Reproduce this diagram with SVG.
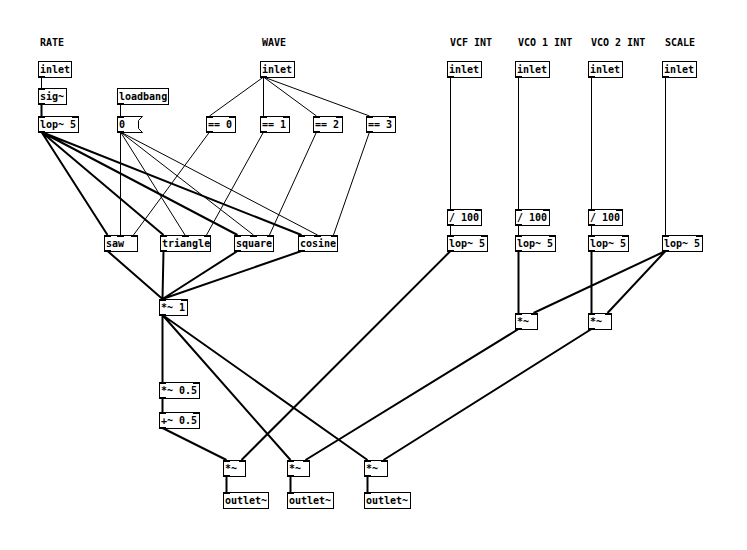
<svg xmlns="http://www.w3.org/2000/svg" width="747" height="550" viewBox="0 0 747 550">
<style>
.b{fill:#fff;stroke:#000;stroke-width:1}
.t{font-family:"DejaVu Sans Mono","Liberation Mono",monospace;font-weight:bold;font-size:10px;fill:#000}
.io{fill:#000;stroke:none}
.c{stroke:#000;stroke-width:1;fill:none}
.s{stroke:#000;stroke-width:2;fill:none}
</style>
<rect width="747" height="550" fill="#fff"/>
<g id="comments">
<text class="t" x="40" y="46">RATE</text>
<text class="t" x="262" y="46">WAVE</text>
<text class="t" x="450" y="46">VCF INT</text>
<text class="t" x="518" y="46">VCO 1 INT</text>
<text class="t" x="591" y="46">VCO 2 INT</text>
<text class="t" x="665" y="46">SCALE</text>
</g>
<g id="connectors">
<path class="c" d="M41.5,77V88M120.5,104V116M263.5,77L209.5,116M263.5,77V116M263.5,77L316.5,116M263.5,77L369.5,116M209.5,132L133.5,235M263.5,132L206.5,235M316.5,132L269.5,235M369.5,132L333.5,235M120.5,132V235M120.5,132L185,235M120.5,132L253.5,235M120.5,132L317.5,235M450.5,77V209M450.5,225V235M518.5,77V209M518.5,225V235M591.5,77V209M591.5,225V235M665.5,77V235"/>
<path class="s" d="M41.5,104V116M41.5,132L107.5,235M41.5,132L163.5,235M41.5,132L237.5,235M41.5,132L301.5,235M107.5,251L162.5,299M163.5,251L162.5,299M237.5,251L162.5,299M301.5,251L162.5,299M162.5,315V382M162.5,315L290.5,460M162.5,315L367.5,460M162.5,398V412M162.5,428L226.5,460M450.5,251L241.5,460M518.5,329L305.5,460M591.5,329L383.5,460M518.5,251V313M591.5,251V313M665.5,251L533.5,313M665.5,251L607.5,313M226.5,476V492M290.5,476V492M367.5,476V492"/>
</g>
<g id="inletRate"><rect class="b" x="38.5" y="61.5" width="33" height="16"/><text class="t" x="40" y="73">inlet</text><rect class="io" x="38" y="76" width="7" height="2"/></g>
<g id="sig"><rect class="b" x="38.5" y="88.5" width="28" height="16"/><text class="t" x="40" y="100">sig~</text><rect class="io" x="38" y="88" width="7" height="2"/><rect class="io" x="38" y="103" width="7" height="2"/></g>
<g id="lopRate"><rect class="b" x="38.5" y="116.5" width="40" height="16"/><text class="t" x="40" y="128">lop~ 5</text><rect class="io" x="38" y="116" width="7" height="2"/><rect class="io" x="72" y="116" width="7" height="2"/><rect class="io" x="38" y="131" width="7" height="2"/></g>
<g id="loadbang"><rect class="b" x="117.5" y="88.5" width="51" height="16"/><text class="t" x="119" y="100">loadbang</text><rect class="io" x="117" y="103" width="7" height="2"/></g>
<g id="msg0"><path class="b" d="M117.5,116.5H142.5L138.5,120.5V128.5L142.5,132.5H117.5Z"/><text class="t" x="119" y="128">0</text><rect class="io" x="117" y="116" width="7" height="2"/><rect class="io" x="117" y="131" width="7" height="2"/></g>
<g id="inletWave"><rect class="b" x="260.5" y="61.5" width="34" height="16"/><text class="t" x="262" y="73">inlet</text><rect class="io" x="260" y="76" width="7" height="2"/></g>
<g id="eq0"><rect class="b" x="206.5" y="116.5" width="29" height="16"/><text class="t" x="208" y="128">== 0</text><rect class="io" x="206" y="116" width="7" height="2"/><rect class="io" x="229" y="116" width="7" height="2"/><rect class="io" x="206" y="131" width="7" height="2"/></g>
<g id="eq1"><rect class="b" x="260.5" y="116.5" width="29" height="16"/><text class="t" x="262" y="128">== 1</text><rect class="io" x="260" y="116" width="7" height="2"/><rect class="io" x="283" y="116" width="7" height="2"/><rect class="io" x="260" y="131" width="7" height="2"/></g>
<g id="eq2"><rect class="b" x="313.5" y="116.5" width="29" height="16"/><text class="t" x="315" y="128">== 2</text><rect class="io" x="313" y="116" width="7" height="2"/><rect class="io" x="336" y="116" width="7" height="2"/><rect class="io" x="313" y="131" width="7" height="2"/></g>
<g id="eq3"><rect class="b" x="366.5" y="116.5" width="29" height="16"/><text class="t" x="368" y="128">== 3</text><rect class="io" x="366" y="116" width="7" height="2"/><rect class="io" x="389" y="116" width="7" height="2"/><rect class="io" x="366" y="131" width="7" height="2"/></g>
<g id="saw"><rect class="b" x="104.5" y="235.5" width="33" height="16"/><text class="t" x="106" y="247">saw</text><rect class="io" x="104" y="235" width="7" height="2"/><rect class="io" x="117" y="235" width="7" height="2"/><rect class="io" x="131" y="235" width="7" height="2"/><rect class="io" x="104" y="250" width="7" height="2"/></g>
<g id="triangle"><rect class="b" x="160.5" y="235.5" width="50" height="16"/><text class="t" x="162" y="247">triangle</text><rect class="io" x="160" y="235" width="7" height="2"/><rect class="io" x="182" y="235" width="7" height="2"/><rect class="io" x="204" y="235" width="7" height="2"/><rect class="io" x="160" y="250" width="7" height="2"/></g>
<g id="square"><rect class="b" x="234.5" y="235.5" width="39" height="16"/><text class="t" x="236" y="247">square</text><rect class="io" x="234" y="235" width="7" height="2"/><rect class="io" x="250" y="235" width="7" height="2"/><rect class="io" x="267" y="235" width="7" height="2"/><rect class="io" x="234" y="250" width="7" height="2"/></g>
<g id="cosine"><rect class="b" x="298.5" y="235.5" width="39" height="16"/><text class="t" x="300" y="247">cosine</text><rect class="io" x="298" y="235" width="7" height="2"/><rect class="io" x="314" y="235" width="7" height="2"/><rect class="io" x="331" y="235" width="7" height="2"/><rect class="io" x="298" y="250" width="7" height="2"/></g>
<g id="mul1"><rect class="b" x="159.5" y="299.5" width="28" height="16"/><text class="t" x="161" y="311">*~ 1</text><rect class="io" x="159" y="299" width="7" height="2"/><rect class="io" x="181" y="299" width="7" height="2"/><rect class="io" x="159" y="314" width="7" height="2"/></g>
<g id="mul05"><rect class="b" x="159.5" y="382.5" width="40" height="16"/><text class="t" x="161" y="394">*~ 0.5</text><rect class="io" x="159" y="382" width="7" height="2"/><rect class="io" x="193" y="382" width="7" height="2"/><rect class="io" x="159" y="397" width="7" height="2"/></g>
<g id="add05"><rect class="b" x="159.5" y="412.5" width="40" height="16"/><text class="t" x="161" y="424">+~ 0.5</text><rect class="io" x="159" y="412" width="7" height="2"/><rect class="io" x="193" y="412" width="7" height="2"/><rect class="io" x="159" y="427" width="7" height="2"/></g>
<g id="mulOut1"><rect class="b" x="223.5" y="460.5" width="22" height="16"/><text class="t" x="225" y="472">*~</text><rect class="io" x="223" y="460" width="7" height="2"/><rect class="io" x="239" y="460" width="7" height="2"/><rect class="io" x="223" y="475" width="7" height="2"/></g>
<g id="outlet1"><rect class="b" x="223.5" y="492.5" width="45" height="16"/><text class="t" x="225" y="504">outlet~</text><rect class="io" x="223" y="492" width="7" height="2"/></g>
<g id="mulOut2"><rect class="b" x="287.5" y="460.5" width="22" height="16"/><text class="t" x="289" y="472">*~</text><rect class="io" x="287" y="460" width="7" height="2"/><rect class="io" x="303" y="460" width="7" height="2"/><rect class="io" x="287" y="475" width="7" height="2"/></g>
<g id="outlet2"><rect class="b" x="287.5" y="492.5" width="46" height="16"/><text class="t" x="289" y="504">outlet~</text><rect class="io" x="287" y="492" width="7" height="2"/></g>
<g id="mulOut3"><rect class="b" x="364.5" y="460.5" width="23" height="16"/><text class="t" x="366" y="472">*~</text><rect class="io" x="364" y="460" width="7" height="2"/><rect class="io" x="381" y="460" width="7" height="2"/><rect class="io" x="364" y="475" width="7" height="2"/></g>
<g id="outlet3"><rect class="b" x="364.5" y="492.5" width="46" height="16"/><text class="t" x="366" y="504">outlet~</text><rect class="io" x="364" y="492" width="7" height="2"/></g>
<g id="inletVCF"><rect class="b" x="447.5" y="61.5" width="34" height="16"/><text class="t" x="449" y="73">inlet</text><rect class="io" x="447" y="76" width="7" height="2"/></g>
<g id="divVCF"><rect class="b" x="447.5" y="209.5" width="34" height="16"/><text class="t" x="449" y="221">/ 100</text><rect class="io" x="447" y="209" width="7" height="2"/><rect class="io" x="475" y="209" width="7" height="2"/><rect class="io" x="447" y="224" width="7" height="2"/></g>
<g id="lopVCF"><rect class="b" x="447.5" y="235.5" width="40" height="16"/><text class="t" x="449" y="247">lop~ 5</text><rect class="io" x="447" y="235" width="7" height="2"/><rect class="io" x="481" y="235" width="7" height="2"/><rect class="io" x="447" y="250" width="7" height="2"/></g>
<g id="inletVCO1"><rect class="b" x="515.5" y="61.5" width="34" height="16"/><text class="t" x="517" y="73">inlet</text><rect class="io" x="515" y="76" width="7" height="2"/></g>
<g id="divVCO1"><rect class="b" x="515.5" y="209.5" width="34" height="16"/><text class="t" x="517" y="221">/ 100</text><rect class="io" x="515" y="209" width="7" height="2"/><rect class="io" x="543" y="209" width="7" height="2"/><rect class="io" x="515" y="224" width="7" height="2"/></g>
<g id="lopVCO1"><rect class="b" x="515.5" y="235.5" width="40" height="16"/><text class="t" x="517" y="247">lop~ 5</text><rect class="io" x="515" y="235" width="7" height="2"/><rect class="io" x="549" y="235" width="7" height="2"/><rect class="io" x="515" y="250" width="7" height="2"/></g>
<g id="mulVCO1"><rect class="b" x="515.5" y="313.5" width="22" height="16"/><text class="t" x="517" y="325">*~</text><rect class="io" x="515" y="313" width="7" height="2"/><rect class="io" x="531" y="313" width="7" height="2"/><rect class="io" x="515" y="328" width="7" height="2"/></g>
<g id="inletVCO2"><rect class="b" x="588.5" y="61.5" width="34" height="16"/><text class="t" x="590" y="73">inlet</text><rect class="io" x="588" y="76" width="7" height="2"/></g>
<g id="divVCO2"><rect class="b" x="588.5" y="209.5" width="34" height="16"/><text class="t" x="590" y="221">/ 100</text><rect class="io" x="588" y="209" width="7" height="2"/><rect class="io" x="616" y="209" width="7" height="2"/><rect class="io" x="588" y="224" width="7" height="2"/></g>
<g id="lopVCO2"><rect class="b" x="588.5" y="235.5" width="40" height="16"/><text class="t" x="590" y="247">lop~ 5</text><rect class="io" x="588" y="235" width="7" height="2"/><rect class="io" x="622" y="235" width="7" height="2"/><rect class="io" x="588" y="250" width="7" height="2"/></g>
<g id="mulVCO2"><rect class="b" x="588.5" y="313.5" width="23" height="16"/><text class="t" x="590" y="325">*~</text><rect class="io" x="588" y="313" width="7" height="2"/><rect class="io" x="605" y="313" width="7" height="2"/><rect class="io" x="588" y="328" width="7" height="2"/></g>
<g id="inletScale"><rect class="b" x="662.5" y="61.5" width="34" height="16"/><text class="t" x="664" y="73">inlet</text><rect class="io" x="662" y="76" width="7" height="2"/></g>
<g id="lopScale"><rect class="b" x="662.5" y="235.5" width="40" height="16"/><text class="t" x="664" y="247">lop~ 5</text><rect class="io" x="662" y="235" width="7" height="2"/><rect class="io" x="696" y="235" width="7" height="2"/><rect class="io" x="662" y="250" width="7" height="2"/></g>
</svg>
